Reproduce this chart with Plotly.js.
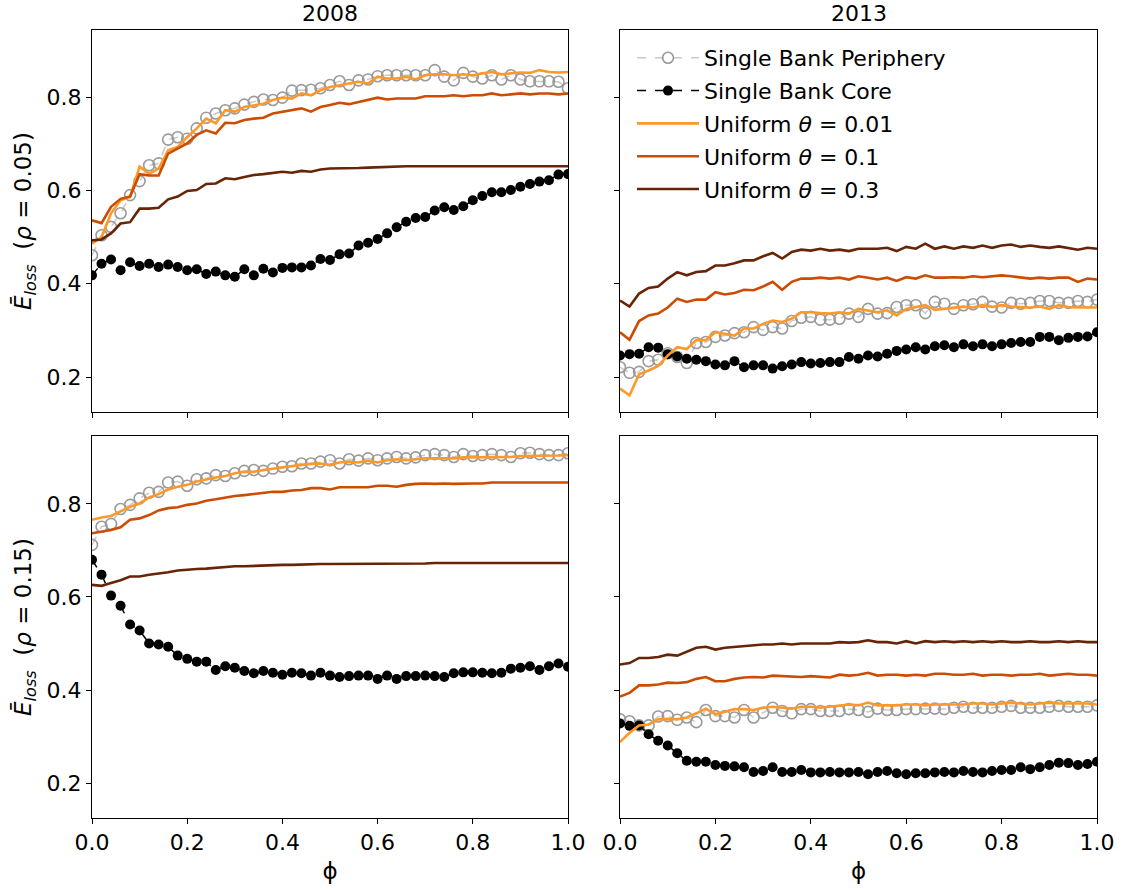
<!DOCTYPE html>
<html><head><meta charset="utf-8">
<script src="https://cdn.plot.ly/plotly-3.0.1.min.js"></script>
<style>html,body{margin:0;padding:0;background:#fff}#chart{width:1123px;height:890px}</style>
</head><body><div id="chart"></div>
<script>
// phi grid (x values)
const phi = [0,0.02,0.04,0.06,0.08,0.10,0.12,0.14,0.16,0.18,0.20,0.22,0.24,0.26,0.28,0.30,0.32,0.34,0.36,0.38,0.40,0.42,0.44,0.46,0.48,0.50,0.52,0.54,0.56,0.58,0.60,0.62,0.64,0.66,0.68,0.70,0.72,0.74,0.76,0.78,0.80,0.82,0.84,0.86,0.88,0.90,0.92,0.94,0.96,0.98,1.00];

const seriesNames = ["Single Bank Periphery","Single Bank Core","Uniform <i>θ</i> = 0.01","Uniform <i>θ</i> = 0.1","Uniform <i>θ</i> = 0.3"];
const colTitles = ["2008","2013"];
const rowLabels = ["<i>Ē</i><sub><i>loss</i></sub>  (<i>ρ</i> = 0.05)","<i>Ē</i><sub><i>loss</i></sub>  (<i>ρ</i> = 0.15)"];
const yTicks = [0.2,0.4,0.6,0.8];
const xTicks = [0,0.2,0.4,0.6,0.8,1.0];

// ---- 2008, rho = 0.05 ----
const p2008r05_periphery = [0.461,0.504,0.522,0.551,0.590,0.620,0.654,0.658,0.709,0.714,0.711,0.733,0.756,0.765,0.772,0.776,0.784,0.790,0.795,0.794,0.799,0.814,0.815,0.816,0.819,0.826,0.834,0.826,0.836,0.838,0.845,0.847,0.847,0.847,0.847,0.847,0.858,0.844,0.836,0.852,0.844,0.840,0.847,0.838,0.847,0.838,0.834,0.834,0.834,0.833,0.819];
const p2008r05_core = [0.418,0.443,0.452,0.429,0.446,0.438,0.443,0.436,0.441,0.436,0.429,0.431,0.421,0.426,0.418,0.415,0.431,0.418,0.432,0.424,0.434,0.435,0.435,0.439,0.453,0.451,0.463,0.465,0.482,0.488,0.496,0.508,0.521,0.533,0.541,0.543,0.557,0.564,0.558,0.566,0.579,0.588,0.596,0.596,0.601,0.608,0.614,0.619,0.622,0.634,0.635];
const p2008r05_u001 = [0.486,0.500,0.551,0.579,0.586,0.651,0.636,0.647,0.686,0.693,0.715,0.733,0.754,0.744,0.772,0.769,0.779,0.783,0.786,0.794,0.799,0.797,0.808,0.804,0.815,0.822,0.826,0.829,0.833,0.829,0.844,0.840,0.840,0.844,0.838,0.847,0.849,0.849,0.847,0.849,0.847,0.851,0.854,0.849,0.851,0.853,0.852,0.858,0.854,0.853,0.854];
const p2008r05_u01 = [0.536,0.530,0.565,0.582,0.587,0.635,0.632,0.632,0.679,0.690,0.701,0.719,0.729,0.722,0.745,0.744,0.751,0.754,0.756,0.765,0.769,0.772,0.776,0.769,0.779,0.783,0.788,0.785,0.790,0.794,0.799,0.795,0.797,0.797,0.797,0.802,0.802,0.802,0.804,0.802,0.804,0.804,0.808,0.804,0.806,0.808,0.806,0.808,0.808,0.806,0.808];
const p2008r05_u03 = [0.493,0.495,0.508,0.529,0.532,0.561,0.561,0.563,0.581,0.587,0.599,0.601,0.614,0.615,0.626,0.624,0.629,0.633,0.635,0.638,0.640,0.638,0.642,0.640,0.645,0.647,0.647,0.648,0.648,0.649,0.650,0.651,0.651,0.652,0.652,0.652,0.653,0.653,0.652,0.653,0.653,0.652,0.653,0.653,0.653,0.652,0.653,0.653,0.653,0.652,0.652];

// ---- 2013, rho = 0.05 ----
const p2013r05_periphery = [0.221,0.209,0.211,0.234,0.237,0.251,0.243,0.230,0.273,0.275,0.286,0.289,0.294,0.296,0.307,0.301,0.307,0.304,0.320,0.327,0.329,0.323,0.323,0.325,0.336,0.329,0.346,0.336,0.337,0.350,0.354,0.354,0.337,0.361,0.357,0.346,0.354,0.356,0.361,0.351,0.349,0.359,0.357,0.359,0.363,0.363,0.359,0.359,0.363,0.361,0.366];
const p2013r05_core = [0.246,0.249,0.250,0.264,0.263,0.249,0.244,0.239,0.237,0.234,0.227,0.225,0.234,0.221,0.225,0.225,0.218,0.223,0.227,0.232,0.229,0.230,0.232,0.232,0.243,0.239,0.246,0.244,0.250,0.256,0.259,0.264,0.259,0.266,0.268,0.264,0.270,0.266,0.270,0.266,0.270,0.273,0.275,0.275,0.286,0.286,0.279,0.284,0.286,0.287,0.296];
const p2013r05_u001 = [0.175,0.161,0.206,0.214,0.224,0.246,0.264,0.260,0.279,0.279,0.296,0.293,0.289,0.304,0.304,0.314,0.321,0.318,0.325,0.339,0.339,0.337,0.336,0.339,0.336,0.346,0.343,0.339,0.343,0.332,0.346,0.350,0.354,0.344,0.346,0.349,0.351,0.349,0.354,0.350,0.354,0.351,0.350,0.349,0.351,0.346,0.354,0.350,0.349,0.349,0.349];
const p2013r05_u01 = [0.296,0.280,0.320,0.332,0.336,0.349,0.368,0.361,0.366,0.366,0.382,0.377,0.380,0.387,0.386,0.394,0.404,0.387,0.404,0.411,0.411,0.413,0.411,0.413,0.409,0.416,0.413,0.409,0.413,0.406,0.414,0.411,0.418,0.413,0.413,0.414,0.413,0.416,0.414,0.416,0.418,0.416,0.413,0.411,0.413,0.411,0.413,0.413,0.404,0.411,0.409];
const p2013r05_u03 = [0.364,0.351,0.379,0.391,0.394,0.411,0.425,0.418,0.425,0.427,0.439,0.439,0.444,0.450,0.450,0.459,0.466,0.454,0.468,0.473,0.471,0.475,0.471,0.473,0.470,0.475,0.475,0.475,0.477,0.470,0.479,0.475,0.486,0.475,0.480,0.475,0.480,0.477,0.482,0.477,0.482,0.484,0.479,0.482,0.479,0.477,0.480,0.477,0.473,0.477,0.475];

// ---- 2008, rho = 0.15 ----
const p2008r15_periphery = [0.712,0.751,0.757,0.789,0.798,0.812,0.824,0.826,0.846,0.848,0.839,0.853,0.855,0.862,0.860,0.866,0.871,0.873,0.871,0.876,0.880,0.881,0.887,0.887,0.891,0.894,0.887,0.896,0.893,0.898,0.894,0.898,0.901,0.898,0.900,0.905,0.907,0.905,0.901,0.907,0.903,0.905,0.907,0.905,0.901,0.909,0.910,0.907,0.905,0.905,0.909];
const p2008r15_core = [0.680,0.648,0.603,0.581,0.541,0.528,0.500,0.498,0.493,0.474,0.467,0.461,0.461,0.443,0.451,0.448,0.441,0.436,0.441,0.437,0.433,0.437,0.436,0.431,0.437,0.431,0.428,0.430,0.431,0.431,0.424,0.431,0.424,0.430,0.430,0.431,0.430,0.428,0.436,0.438,0.438,0.437,0.436,0.437,0.446,0.448,0.451,0.443,0.451,0.457,0.450];
const p2008r15_u001 = [0.766,0.771,0.774,0.784,0.794,0.801,0.814,0.821,0.831,0.837,0.841,0.848,0.853,0.857,0.860,0.866,0.869,0.869,0.873,0.876,0.879,0.881,0.884,0.886,0.887,0.884,0.889,0.891,0.889,0.893,0.889,0.894,0.896,0.894,0.896,0.898,0.898,0.898,0.898,0.900,0.900,0.900,0.901,0.900,0.901,0.903,0.903,0.903,0.903,0.904,0.905];
const p2008r15_u01 = [0.737,0.741,0.744,0.750,0.766,0.769,0.776,0.786,0.791,0.793,0.798,0.801,0.807,0.810,0.814,0.817,0.819,0.821,0.824,0.826,0.826,0.829,0.830,0.834,0.834,0.831,0.836,0.836,0.836,0.836,0.839,0.839,0.837,0.841,0.843,0.844,0.843,0.844,0.843,0.844,0.844,0.844,0.846,0.846,0.846,0.846,0.846,0.846,0.846,0.846,0.846];
const p2008r15_u03 = [0.626,0.624,0.630,0.636,0.644,0.644,0.648,0.650,0.653,0.657,0.659,0.660,0.661,0.663,0.664,0.666,0.666,0.667,0.668,0.669,0.669,0.669,0.670,0.671,0.671,0.671,0.671,0.671,0.671,0.672,0.672,0.672,0.672,0.672,0.672,0.672,0.673,0.673,0.672,0.672,0.673,0.673,0.673,0.672,0.673,0.673,0.673,0.673,0.673,0.673,0.673];

// ---- 2013, rho = 0.15 ----
const p2013r15_periphery = [0.337,0.333,0.324,0.324,0.343,0.344,0.336,0.341,0.331,0.357,0.344,0.344,0.341,0.357,0.341,0.351,0.362,0.355,0.350,0.359,0.359,0.355,0.355,0.355,0.359,0.357,0.353,0.360,0.357,0.357,0.359,0.359,0.360,0.360,0.359,0.362,0.364,0.362,0.362,0.362,0.364,0.366,0.362,0.362,0.362,0.364,0.366,0.364,0.364,0.364,0.367];
const p2013r15_core = [0.328,0.323,0.324,0.305,0.291,0.281,0.264,0.248,0.246,0.246,0.239,0.237,0.236,0.234,0.224,0.226,0.234,0.224,0.224,0.228,0.223,0.223,0.224,0.223,0.223,0.224,0.219,0.224,0.226,0.221,0.219,0.221,0.221,0.223,0.224,0.223,0.226,0.224,0.223,0.226,0.228,0.228,0.234,0.230,0.234,0.239,0.244,0.243,0.239,0.241,0.246];
const p2013r15_u001 = [0.288,0.308,0.324,0.326,0.337,0.338,0.337,0.341,0.350,0.360,0.348,0.353,0.359,0.359,0.357,0.362,0.364,0.362,0.360,0.364,0.364,0.362,0.364,0.367,0.369,0.367,0.373,0.367,0.367,0.367,0.369,0.369,0.367,0.369,0.369,0.369,0.369,0.371,0.371,0.369,0.371,0.373,0.371,0.369,0.371,0.373,0.371,0.371,0.371,0.371,0.369];
const p2013r15_u01 = [0.386,0.394,0.410,0.410,0.412,0.416,0.415,0.417,0.424,0.428,0.419,0.419,0.424,0.427,0.428,0.427,0.431,0.430,0.428,0.428,0.430,0.428,0.427,0.433,0.431,0.433,0.437,0.431,0.433,0.433,0.431,0.433,0.431,0.435,0.435,0.433,0.433,0.435,0.431,0.433,0.433,0.431,0.433,0.433,0.435,0.431,0.433,0.435,0.433,0.433,0.431];
const p2013r15_u03 = [0.455,0.458,0.469,0.469,0.471,0.476,0.474,0.483,0.491,0.493,0.487,0.491,0.493,0.494,0.496,0.498,0.498,0.500,0.498,0.500,0.500,0.500,0.500,0.503,0.502,0.503,0.507,0.503,0.503,0.500,0.505,0.500,0.505,0.503,0.505,0.503,0.505,0.503,0.505,0.503,0.505,0.503,0.503,0.505,0.503,0.503,0.505,0.503,0.505,0.503,0.503];

const panels = [
  {xa:'x',  ya:'y',  d:[p2008r05_periphery,p2008r05_core,p2008r05_u001,p2008r05_u01,p2008r05_u03]},
  {xa:'x2', ya:'y2', d:[p2013r05_periphery,p2013r05_core,p2013r05_u001,p2013r05_u01,p2013r05_u03], legend:true},
  {xa:'x3', ya:'y3', d:[p2008r15_periphery,p2008r15_core,p2008r15_u001,p2008r15_u01,p2008r15_u03]},
  {xa:'x4', ya:'y4', d:[p2013r15_periphery,p2013r15_core,p2013r15_u001,p2013r15_u01,p2013r15_u03]}
];

const styles = [
  {mode:'lines+markers', line:{color:'#c9c9c9', dash:'dash', width:1.5}, marker:{symbol:'circle-open', size:11, color:'#9a9a9a', line:{width:1.6}}},
  {mode:'lines+markers', line:{color:'#000000', dash:'dash', width:1.5}, marker:{symbol:'circle', size:10, color:'#000000'}},
  {mode:'lines', line:{color:'#fe9929', width:2.6}},
  {mode:'lines', line:{color:'#cc4c02', width:2.6}},
  {mode:'lines', line:{color:'#662506', width:2.6}}
];

const traces = [];
panels.forEach(p => {
  p.d.forEach((vals, k) => {
    traces.push(Object.assign({
      type:'scatter', x: phi, y: vals, xaxis: p.xa, yaxis: p.ya,
      name: seriesNames[k], legendgroup: 'g' + k, showlegend: !!p.legend, hoverinfo:'x+y'
    }, JSON.parse(JSON.stringify(styles[k]))));
  });
});

const W = 1123, H = 890;
const colX = [[92/W, 568/W],[620/W, 1097/W]];
const rowY = [[1-412/H, 1-30/H],[1-818/H, 1-436/H]];
const font = {family:'DejaVu Sans, Liberation Sans, sans-serif', size:22, color:'#000'};
const labelFont = {family:'DejaVu Sans, Liberation Sans, sans-serif', size:23, color:'#000'};

function xAxis(col, row, anchor){
  const a = {domain: colX[col], anchor: anchor, range:[0,1], tickvals: xTicks, tickformat:'.1f',
    showticklabels: row===1, ticks:'outside', ticklen:5, tickwidth:1, tickcolor:'#000',
    showline:true, mirror:true, linecolor:'#000', linewidth:1, showgrid:false, zeroline:false,
    tickfont: font};
  if (row===1) a.title = {text:'ϕ', font: labelFont, standoff: 8};
  return a;
}
function yAxis(col, row, anchor){
  const a = {domain: rowY[row], anchor: anchor, range: row===0 ? [0.125,0.944] : [0.125,0.946], tickvals: yTicks, tickformat:'.1f',
    showticklabels: col===0, ticks:'outside', ticklen:5, tickwidth:1, tickcolor:'#000',
    showline:true, mirror:true, linecolor:'#000', linewidth:1, showgrid:false, zeroline:false,
    tickfont: font};
  if (col===0) a.title = {text: rowLabels[row], font: labelFont, standoff: 8};
  return a;
}

const layout = {
  width: W, height: H, margin:{l:0,r:0,t:0,b:0}, paper_bgcolor:'#fff', plot_bgcolor:'#fff',
  font: font, showlegend: true,
  xaxis: xAxis(0,0,'y'), yaxis: yAxis(0,0,'x'),
  xaxis2: xAxis(1,0,'y2'), yaxis2: yAxis(1,0,'x2'),
  xaxis3: xAxis(0,1,'y3'), yaxis3: yAxis(0,1,'x3'),
  xaxis4: xAxis(1,1,'y4'), yaxis4: yAxis(1,1,'x4'),
  legend: {x: 632/W, y: 1-37/H, xanchor:'left', yanchor:'top', bgcolor:'rgba(255,255,255,0)', borderwidth:0,
    font: font, itemwidth: 62, tracegroupgap: 1.2},
  annotations: [
    {text: colTitles[0], xref:'paper', yref:'paper', x:(colX[0][0]+colX[0][1])/2, y:1-14/H, xanchor:'center', yanchor:'middle', showarrow:false, font: font},
    {text: colTitles[1], xref:'paper', yref:'paper', x:(colX[1][0]+colX[1][1])/2, y:1-14/H, xanchor:'center', yanchor:'middle', showarrow:false, font: font}
  ]
};

Plotly.newPlot('chart', traces, layout, {displayModeBar:false, staticPlot:true});
</script>
</body></html>
